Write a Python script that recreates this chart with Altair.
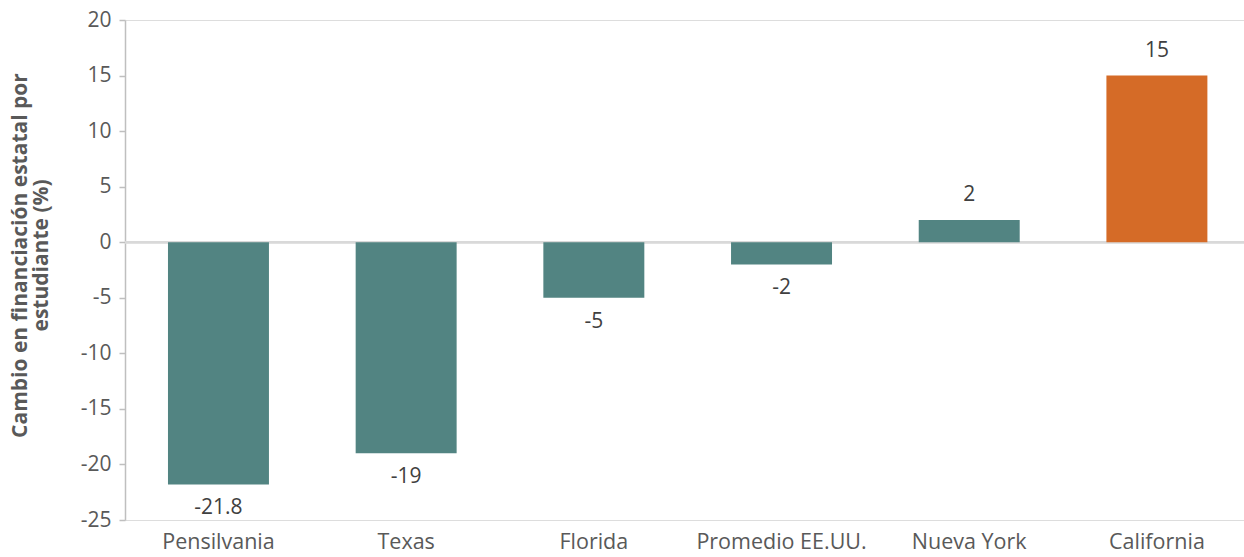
import altair as alt
import pandas as pd

categories = ["Pensilvania", "Texas", "Florida", "Promedio EE.UU.", "Nueva York", "California"]
values = [-21.8, -19, -5, -2, 2, 15]
labels = ["-21.8", "-19", "-5", "-2", "2", "15"]
highlight = ["no", "no", "no", "no", "no", "yes"]

df = pd.DataFrame({"cat": categories, "val": values, "lab": labels, "hl": highlight})

FONT = "Open Sans"
x = alt.X("cat:N", sort=categories, title=None,
          scale=alt.Scale(paddingInner=0.462, paddingOuter=0.212, align=0.54),
          axis=alt.Axis(domain=False, ticks=False, labelAngle=0, labelFontSize=21.5,
                        labelColor="#595959", labelFont=FONT, labelPadding=11))

bars = alt.Chart(df).mark_bar().encode(
    x=x,
    y=alt.Y("val:Q", scale=alt.Scale(domain=[-25, 20], nice=False),
            title=["Cambio en financiación estatal por", "estudiante (%)"],
            axis=alt.Axis(values=[-25, -20, -15, -10, -5, 0, 5, 10, 15, 20], grid=False,
                          labelExpr="toString(datum.value)",
                          domainColor="#bfbfbf", domainWidth=1.5, tickColor="#bfbfbf",
                          tickSize=6, tickWidth=1.5, labelFontSize=21, labelColor="#595959",
                          labelFont=FONT, labelPadding=8, titleFont=FONT, titleFontSize=21,
                          titleFontWeight="bold", titleColor="#595959", titleX=-116,
                          titleY=235, titleAlign="center", titleBaseline="top",
                          titleLineHeight=21)),
    color=alt.Color("hl:N", scale=alt.Scale(domain=["no", "yes"], range=["#528482", "#D56B27"]),
                    legend=None),
)

zero = alt.Chart(df).mark_rule(color="#d9d9d9", strokeWidth=2).encode(y=alt.datum(0))

pos = alt.Chart(df).transform_filter("datum.val >= 0").mark_text(
    dy=-25, fontSize=21, color="#404040", font=FONT).encode(
    x=alt.X("cat:N", sort=categories), y="val:Q", text="lab:N")
neg = alt.Chart(df).transform_filter("datum.val < 0").mark_text(
    dy=24, fontSize=21, color="#404040", font=FONT).encode(
    x=alt.X("cat:N", sort=categories), y="val:Q", text="lab:N")

chart = alt.layer(zero, bars, pos, neg).properties(
    width=1119, height=500,
    autosize=alt.AutoSizeParams(type="none"),
    padding={"left": 125, "top": 20, "right": 0, "bottom": 37},
).configure_view(stroke=None).configure(background="white")

chart.save("out.html", embed_options={"renderer": "svg", "actions": False})
